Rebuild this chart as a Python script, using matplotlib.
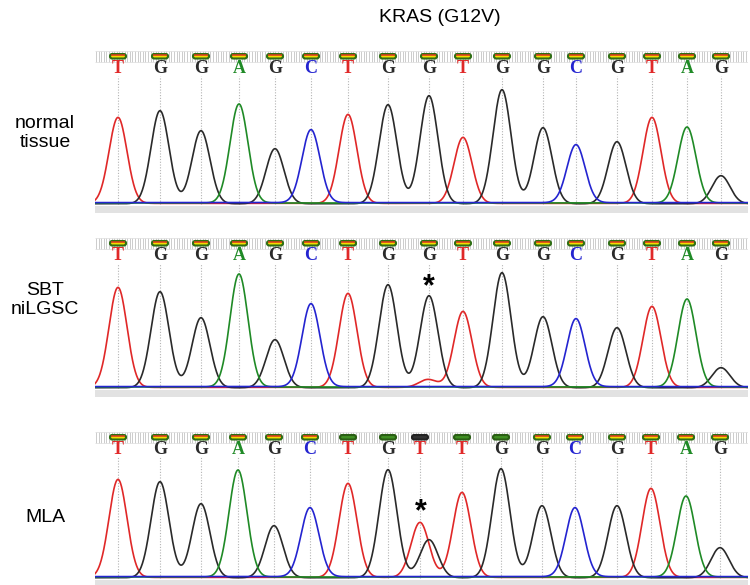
import numpy as np
import matplotlib.pyplot as plt
from matplotlib.patches import FancyBboxPatch, Rectangle

# base calls, positions (scan units) and main peak heights for each sample
calls1 = list("TGGAGCTGGTGGCGTAG")
pos1 = [118, 160, 201, 239, 275, 311, 348, 388, 429, 463, 502, 543, 576, 617, 652, 687, 721]
h1 = [86, 93, 73, 99, 55, 73, 89, 99, 108, 66, 114, 76, 58, 62, 86, 76, 28]

calls2 = list("TGGAGCTGGTGGCGTAG")
pos2 = [118, 160, 201, 239, 275, 311, 348, 388, 429, 463, 502, 543, 576, 617, 652, 687, 721]
h2 = [100, 96, 70, 113, 48, 83, 94, 103, 92, 76, 115, 71, 68, 60, 81, 88, 20]

calls3 = list("TGGAGCTGTTGGCGTAG")
pos3 = [118, 160, 201, 238, 274, 310, 348, 388, 420, 462, 501, 542, 575, 617, 651, 686, 720]
h3 = [98, 96, 74, 107, 52, 69, 94, 108, 55, 85, 109, 72, 69, 72, 89, 81, 30]

# secondary peaks: (base, position, height)
extra1 = []
extra2 = [("T", 428, 8)]
extra3 = [("G", 429, 38)]

# quality bar class per call
qual1 = ["hi"] * 17
qual2 = ["hi"] * 17
qual3 = ["hi"] * 6 + ["mid", "mid", "low", "mid", "mid"] + ["hi"] * 6

# asterisk marks (position, height)
star2 = (429, 101)
star3 = (421, 66)

labels = ["normal\ntissue", "SBT\nniLGSC", "MLA"]
title = "KRAS (G12V)"

colors = {"G": "#2a2a2a", "T": "#e02828", "A": "#1f8a26", "C": "#2424d0"}
base_off = {"G": 0.3, "T": 0.6, "A": 1.0, "C": 1.4}

W, H = 750, 585
fig = plt.figure(figsize=(7.5, 5.85), dpi=100)

# panel geometry in pixels: top, baseline, bottom
panels = [
    (48, 204, 213, calls1, pos1, h1, extra1, qual1, None),
    (235, 388, 397, calls2, pos2, h2, extra2, qual2, star2),
    (429, 578, 585, calls3, pos3, h3, extra3, qual3, star3),
]
x0, x1 = 95, 748
sigma = 9
xs = np.linspace(x0, x1, 2000)

for i, (top, base, bot, calls, pos, hts, extra, qual, star) in enumerate(panels):
    ax = fig.add_axes([x0 / W, 1 - bot / H, (x1 - x0) / W, (bot - top) / H])
    ax.set_xlim(x0, x1)
    ax.set_ylim(-(bot - base), base - top)
    ax.axis("off")
    ytop = base - top

    # gray band under the traces
    ax.add_patch(Rectangle((x0, -(bot - base)), x1 - x0, bot - base - 2,
                           facecolor="#e2e2e2", edgecolor="none", zorder=0))

    # dotted header band
    ax.vlines(np.arange(x0 + 1, x1, 2.6), ytop - 14, ytop - 3, color="#c4c4c4",
              lw=0.6, zorder=1)
    ax.hlines([ytop - 3, ytop - 14], x0, x1, color="#dcdcdc", lw=0.5, zorder=1)

    peaks = [(c, p, h) for c, p, h in zip(calls, pos, hts)] + extra
    for b in ["T", "G", "A", "C"]:
        y = np.full_like(xs, base_off[b])
        for c, p, h in peaks:
            if c == b:
                y += h * np.exp(-0.5 * ((xs - p) / sigma) ** 2)
        ax.plot(xs, y, color=colors[b], lw=1.2, zorder=3)

    for c, p, q in zip(calls, pos, qual):
        # dotted guide from letter to baseline
        ax.vlines(p, 0, ytop - 28, color="#b4b4b4", lw=0.8, linestyles=(0, (1, 1.5)),
                  zorder=2)
        ax.text(p, ytop - 20.5, c, ha="center", va="center", fontsize=13,
                fontweight="bold", family="Liberation Serif", color=colors[c],
                zorder=4)
        if q == "hi":
            fc, ec = "#f2dc00", "#2f6e14"
        elif q == "mid":
            fc, ec = "#3f8f22", "#2a5e14"
        else:
            fc, ec = "#333333", "#222222"
        ax.add_patch(FancyBboxPatch((p - 8, ytop - 10.5), 16, 4.5,
                                    boxstyle="round,pad=0,rounding_size=2.2",
                                    facecolor=fc, edgecolor=ec, lw=1.5, zorder=4))
        if q == "hi":
            ax.hlines(ytop - 7.0, p - 7, p + 7, color="#e23a1c", lw=1.1, zorder=5)

    if star is not None:
        ax.text(star[0], star[1], "*", ha="center", va="center", fontsize=22,
                fontweight="bold", family="Liberation Sans", color="black", zorder=5)

fig.text(440 / W, 1 - 17 / H, title, ha="center", va="center", fontsize=14,
         family="Liberation Sans")
label_y = [133, 300, 517]
for lab, ly in zip(labels, label_y):
    fig.text(45 / W, 1 - ly / H, lab, ha="center", va="center", fontsize=14,
             family="Liberation Sans", linespacing=1.15)

fig.savefig("out.png", dpi=100)
